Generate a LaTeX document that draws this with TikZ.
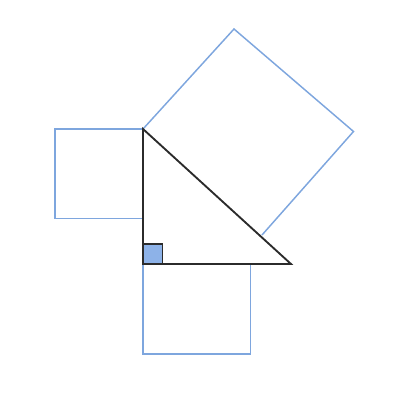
\documentclass[tikz,border=0pt]{standalone}
\usepackage{tikz}

\definecolor{sqblue}{HTML}{7EA6DE}
\definecolor{markblue}{HTML}{8DB2E8}
\definecolor{tridark}{HTML}{2B2B2B}

\begin{document}
\begin{tikzpicture}[x=0.75pt,y=-0.75pt,
		sq/.style={draw=sqblue, line width=1.1pt, line join=miter},
		tri/.style={draw=tridark, line width=1.4pt, line join=miter},
		rightmark/.style={fill=markblue, draw=tridark, line width=0.9pt}]
				\useasboundingbox (0,0) rectangle (400,400);
				% triangle corners
				\coordinate (A) at (143,129);
				\coordinate (C) at (143,264);
				\coordinate (B) at (291,264);
				% square on the hypotenuse
				\coordinate (H1) at (234,29);
				\coordinate (H2) at (353.5,131.5);
				\coordinate (H3) at (262,235);
				
				\draw[sq] (A) -- (H1) -- (H2) -- (H3);
				\draw[sq] (A) -- (55,129) -- (55,218.5) -- (143,218.5);
				\draw[sq] (C) -- (143,354) -- (250.5,354) -- (250.5,264);
				
				\draw[rightmark] (C) rectangle (162.5,244);
				\draw[tri] (A) -- (C) -- (B) -- cycle;
				\end{tikzpicture}
\end{document}
